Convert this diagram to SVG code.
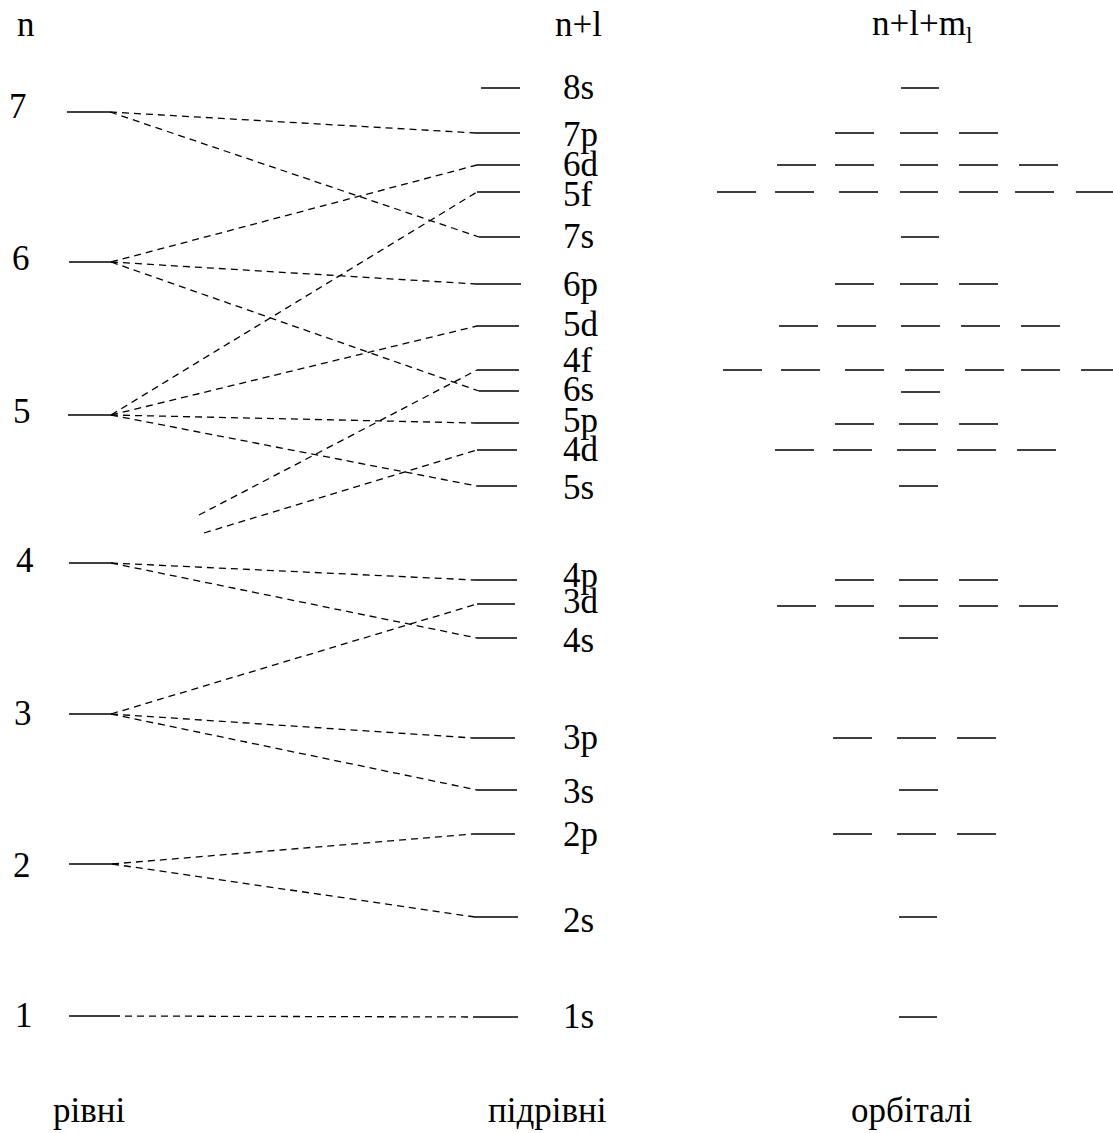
<svg xmlns="http://www.w3.org/2000/svg" width="1113" height="1133" viewBox="0 0 1113 1133">
<style>
text{font-family:"Liberation Serif","Times New Roman",serif;font-size:35px;fill:#000}
.lv{stroke:#000;stroke-width:1.6;fill:none}
.dl{stroke:#000;stroke-width:1.3;stroke-dasharray:7 5;fill:none}
.sub{font-size:23px}
</style>
<rect width="1113" height="1133" fill="#fff"/>
<g id="headers">
<text x="17" y="36">n</text>
<text x="555" y="36">n+l</text>
<text x="872" y="35">n+l+m<tspan class="sub" dy="8">l</tspan></text>
</g>
<g id="levels">
<g id="n7"><line class="lv" x1="67" y1="112" x2="110" y2="112"/><text x="9" y="118">7</text></g>
<g id="n6"><line class="lv" x1="69" y1="262" x2="111" y2="262"/><text x="12" y="270">6</text></g>
<g id="n5"><line class="lv" x1="68" y1="415" x2="111" y2="415"/><text x="13" y="423">5</text></g>
<g id="n4"><line class="lv" x1="69" y1="563" x2="111" y2="563"/><text x="16" y="572">4</text></g>
<g id="n3"><line class="lv" x1="69" y1="714" x2="111" y2="714"/><text x="14" y="725">3</text></g>
<g id="n2"><line class="lv" x1="69" y1="864" x2="112" y2="864"/><text x="13" y="877">2</text></g>
<g id="n1"><line class="lv" x1="69" y1="1016" x2="113" y2="1016"/><text x="15" y="1027">1</text></g>
</g>
<g id="sublevels">
<g id="s8s"><line class="lv" x1="481" y1="88" x2="520" y2="88"/><text x="563" y="99">8s</text></g>
<g id="s7p"><line class="lv" x1="476" y1="133" x2="520" y2="133"/><text x="563" y="146">7p</text></g>
<g id="s6d"><line class="lv" x1="477" y1="165" x2="520" y2="165"/><text x="563" y="176">6d</text></g>
<g id="s5f"><line class="lv" x1="477" y1="192" x2="520" y2="192"/><text x="563" y="206">5f</text></g>
<g id="s7s"><line class="lv" x1="479" y1="237" x2="520" y2="237"/><text x="563" y="248">7s</text></g>
<g id="s6p"><line class="lv" x1="476" y1="284" x2="521" y2="284"/><text x="563" y="296">6p</text></g>
<g id="s5d"><line class="lv" x1="477" y1="326" x2="519" y2="326"/><text x="563" y="336">5d</text></g>
<g id="s4f"><line class="lv" x1="477" y1="370" x2="519" y2="370"/><text x="563" y="372">4f</text></g>
<g id="s6s"><line class="lv" x1="479" y1="391" x2="519" y2="391"/><text x="563" y="401">6s</text></g>
<g id="s5p"><line class="lv" x1="475" y1="423" x2="519" y2="423"/><text x="563" y="432">5p</text></g>
<g id="s4d"><line class="lv" x1="477" y1="450" x2="517" y2="450"/><text x="563" y="461">4d</text></g>
<g id="s5s"><line class="lv" x1="477" y1="486" x2="517" y2="486"/><text x="563" y="499">5s</text></g>
<g id="s4p"><line class="lv" x1="475" y1="580" x2="517" y2="580"/><text x="563" y="587">4p</text></g>
<g id="s3d"><line class="lv" x1="477" y1="604" x2="515" y2="604"/><text x="563" y="613">3d</text></g>
<g id="s4s"><line class="lv" x1="477" y1="638" x2="517" y2="638"/><text x="563" y="652">4s</text></g>
<g id="s3p"><line class="lv" x1="473" y1="738" x2="515" y2="738"/><text x="563" y="749">3p</text></g>
<g id="s3s"><line class="lv" x1="477" y1="790" x2="517" y2="790"/><text x="563" y="803">3s</text></g>
<g id="s2p"><line class="lv" x1="473" y1="834" x2="515" y2="834"/><text x="563" y="846">2p</text></g>
<g id="s2s"><line class="lv" x1="475" y1="917" x2="518" y2="917"/><text x="563" y="932">2s</text></g>
<g id="s1s"><line class="lv" x1="474" y1="1017" x2="518" y2="1017"/><text x="563" y="1028">1s</text></g>
</g>
<g id="orbitals" class="lv">
<path d="M901 88h38"/>
<path d="M835 133h39M900 133h38M959 133h39"/>
<path d="M777 165h39M835 165h39M900 165h38M959 165h39M1019 165h39"/>
<path d="M717 192h39M775 192h39M839 192h39M900 192h38M959 192h39M1015 192h39M1076 192h37"/>
<path d="M901 237h38"/>
<path d="M835 284h39M900 284h38M959 284h39"/>
<path d="M779 326h39M837 326h39M901 326h39M961 326h39M1021 326h39"/>
<path d="M723 370h39M781 370h39M845 370h39M905 370h39M965 370h39M1021 370h39M1081 370h32"/>
<path d="M901 392h39"/>
<path d="M835 424h39M899 424h39M959 424h39"/>
<path d="M775 450h39M833 450h39M897 450h39M957 450h39M1017 450h39"/>
<path d="M899 486h39"/>
<path d="M835 580h39M899 580h39M959 580h39"/>
<path d="M777 606h39M835 606h39M899 606h39M959 606h39M1019 606h39"/>
<path d="M899 638h39"/>
<path d="M833 738h39M897 738h39M957 738h39"/>
<path d="M899 790h39"/>
<path d="M833 834h39M897 834h39M957 834h39"/>
<path d="M899 917h38"/>
<path d="M899 1017h38"/>
</g>
<g id="connectors" class="dl">
<path d="M110 112L476 133"/>
<path d="M110 112L479 237"/>
<path d="M111 262L477 165"/>
<path d="M111 262L476 284"/>
<path d="M111 262L479 391"/>
<path d="M111 415L477 192"/>
<path d="M111 415L477 326"/>
<path d="M111 415L475 423"/>
<path d="M111 415L477 486"/>
<path d="M199 515L477 370"/>
<path d="M204 533L477 450"/>
<path d="M111 563L475 580"/>
<path d="M111 563L477 638"/>
<path d="M111 714L477 604"/>
<path d="M111 714L473 738"/>
<path d="M111 714L477 790"/>
<path d="M112 864L473 834"/>
<path d="M112 864L475 917"/>
<path d="M113 1016L474 1017"/>
</g>
<g id="footer">
<text x="53" y="1122">рівні</text>
<text x="488" y="1122">підрівні</text>
<text x="851" y="1122">орбіталі</text>
</g>
</svg>
